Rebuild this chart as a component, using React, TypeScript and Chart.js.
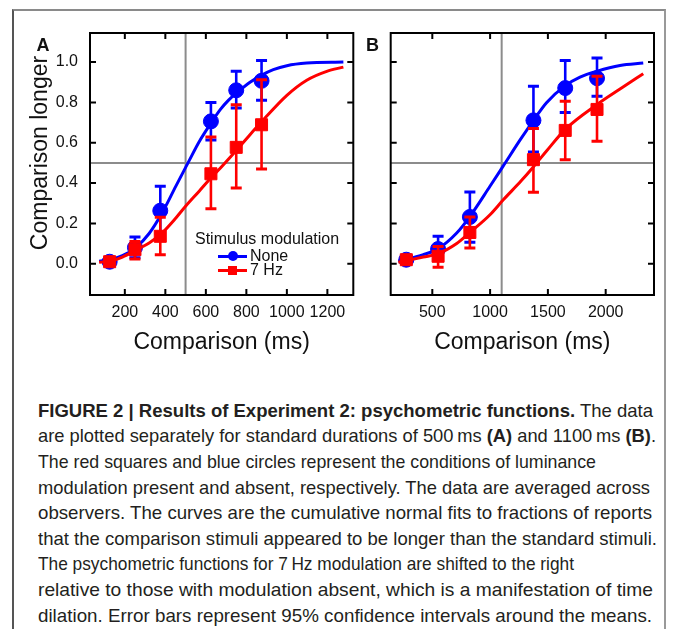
import React, { useEffect, useLayoutEffect, useRef } from 'react';
import { Chart, registerables } from 'chart.js';

Chart.register(...registerables);

// ---------- Data ----------
const X_A = [125, 250, 375, 625, 750, 875];
const NONE_A = [0.01, 0.08, 0.263, 0.706, 0.86, 0.907];
const NONE_A_LO = [0.0, 0.03, 0.15, 0.613, 0.772, 0.81];
const NONE_A_HI = [0.02, 0.132, 0.384, 0.8, 0.954, 1.008];
const HZ7_A = [0.01, 0.07, 0.136, 0.446, 0.577, 0.689];
const HZ7_A_LO = [0.0, 0.023, 0.045, 0.273, 0.375, 0.47];
const HZ7_A_HI = [0.02, 0.11, 0.23, 0.628, 0.788, 0.912];

const X_B = [275, 550, 825, 1375, 1650, 1925];
const NONE_B = [0.02, 0.073, 0.232, 0.711, 0.871, 0.92];
const NONE_B_LO = [0.0, 0.02, 0.106, 0.554, 0.75, 0.83];
const NONE_B_HI = [0.03, 0.136, 0.356, 0.88, 1.008, 1.02];
const HZ7_B = [0.02, 0.037, 0.155, 0.516, 0.661, 0.765];
const HZ7_B_LO = [0.0, -0.018, 0.078, 0.355, 0.516, 0.607];
const HZ7_B_HI = [0.03, 0.086, 0.232, 0.67, 0.805, 0.929];

// fitted curves
const FIT_NONE_A_X = [73, 126, 188, 254, 320, 383, 452, 517, 567, 624, 672, 711, 756, 818, 876, 933, 1000, 1098, 1279];
const FIT_NONE_A_Y = [0.012, 0.02, 0.04, 0.08, 0.15, 0.25, 0.385, 0.51, 0.605, 0.695, 0.765, 0.81, 0.85, 0.9, 0.935, 0.962, 0.982, 0.995, 1.0];
const FIT_HZ7_A_X = [73, 126, 188, 259, 320, 375, 452, 504, 567, 629, 672, 749, 818, 876, 1000, 1098, 1197, 1279];
const FIT_HZ7_A_Y = [0.007, 0.012, 0.033, 0.07, 0.103, 0.144, 0.227, 0.29, 0.36, 0.43, 0.475, 0.56, 0.64, 0.705, 0.835, 0.91, 0.954, 0.975];
const FIT_NONE_B_X = [206, 422, 552, 711, 826, 999, 1114, 1267, 1380, 1490, 1648, 1778, 1927, 2124, 2325];
const FIT_NONE_B_Y = [0.012, 0.045, 0.075, 0.152, 0.235, 0.384, 0.485, 0.62, 0.715, 0.8, 0.882, 0.925, 0.955, 0.983, 0.995];
const FIT_HZ7_B_X = [206, 422, 552, 711, 826, 999, 1114, 1267, 1374, 1490, 1648, 1927, 2124, 2325];
const FIT_HZ7_B_Y = [0.007, 0.033, 0.05, 0.1, 0.155, 0.243, 0.317, 0.41, 0.48, 0.56, 0.665, 0.79, 0.866, 0.942];

const X_TICKS_A = [200, 400, 600, 800, 1000, 1200];
const X_TICKS_B = [500, 1000, 1500, 2000];
const Y_TICKS = [0, 0.2, 0.4, 0.6, 0.8, 1.0];
const STANDARD_A = 500;
const STANDARD_B = 1100;
const THRESHOLD = 0.5;
const X_RANGE_A = [28, 1328];
const X_RANGE_B = [140, 2418];
const Y_RANGE = [-0.155, 1.144];

const SERIES_NAMES = ['None', '7 Hz'];
const LEGEND_TITLE = 'Stimulus modulation';
const X_TITLE = 'Comparison (ms)';
const Y_TITLE = 'Comparison longer';

// ---------- Style ----------
const FONT = '"Liberation Sans", Arial, Helvetica, sans-serif';
const BLUE = '#0000ff';
const RED = '#ff0000';
const CW = 673;
const CH = 370;

const zip = (xs: number[], ys: number[]) => xs.map((x, i) => ({ x, y: ys[i] }));

const panelPlugin: any = {
  id: 'panelDecor',
  beforeDatasetsDraw(chart: any, _a: any, opts: any) {
    const { ctx, chartArea: ca, scales } = chart;
    const sx = scales.x.getPixelForValue(opts.standard);
    const ty = scales.y.getPixelForValue(opts.threshold);
    ctx.save();
    ctx.strokeStyle = '#8c8c8c';
    ctx.lineWidth = 2;
    ctx.beginPath();
    ctx.moveTo(sx, ca.top);
    ctx.lineTo(sx, ca.bottom);
    ctx.moveTo(ca.left, ty);
    ctx.lineTo(ca.right, ty);
    ctx.stroke();
    ctx.restore();
  },
  afterDatasetDraw(chart: any, args: any) {
    const ds = chart.data.datasets[args.index];
    if (!ds.errLow) return;
    const { ctx, scales } = chart;
    ctx.save();
    ctx.strokeStyle = ds.errColor;
    ds.data.forEach((p: any, i: number) => {
      const px = scales.x.getPixelForValue(p.x);
      const lo = scales.y.getPixelForValue(ds.errLow[i]);
      const hi = scales.y.getPixelForValue(ds.errHigh[i]);
      ctx.lineWidth = 2.6;
      ctx.beginPath();
      ctx.moveTo(px, lo);
      ctx.lineTo(px, hi);
      ctx.stroke();
      ctx.lineWidth = 3;
      ctx.beginPath();
      ctx.moveTo(px - 5.5, lo);
      ctx.lineTo(px + 5.5, lo);
      ctx.moveTo(px - 5.5, hi);
      ctx.lineTo(px + 5.5, hi);
      ctx.stroke();
    });
    ctx.restore();
  },
  afterDraw(chart: any, _a: any, opts: any) {
    const { ctx, chartArea: ca, scales } = chart;
    ctx.save();
    ctx.strokeStyle = '#000';
    ctx.lineWidth = 2;
    ctx.strokeRect(ca.left, ca.top, ca.right - ca.left, ca.bottom - ca.top);
    ctx.beginPath();
    opts.xTicks.forEach((v: number) => {
      const px = scales.x.getPixelForValue(v);
      ctx.moveTo(px, ca.bottom);
      ctx.lineTo(px, ca.bottom - 6);
      ctx.moveTo(px, ca.top);
      ctx.lineTo(px, ca.top + 6);
    });
    opts.yTicks.forEach((v: number) => {
      const py = scales.y.getPixelForValue(v);
      ctx.moveTo(ca.left, py);
      ctx.lineTo(ca.left + 6, py);
      ctx.moveTo(ca.right, py);
      ctx.lineTo(ca.right - 6, py);
    });
    ctx.stroke();
    ctx.restore();
  },
};

function makeConfig(p: any): any {
  const datasets = [
    {
      label: SERIES_NAMES[0] + ' fit',
      data: zip(p.fitNoneX, p.fitNoneY),
      showLine: true,
      borderColor: BLUE,
      borderWidth: 3,
      pointRadius: 0,
      cubicInterpolationMode: 'monotone',
      order: 4,
    },
    {
      label: SERIES_NAMES[0],
      data: zip(p.x, p.none),
      pointStyle: 'circle',
      pointRadius: 7.5,
      backgroundColor: BLUE,
      borderColor: BLUE,
      borderWidth: 1,
      errLow: p.noneLo,
      errHigh: p.noneHi,
      errColor: BLUE,
      order: 3,
    },
    {
      label: SERIES_NAMES[1] + ' fit',
      data: zip(p.fitHzX, p.fitHzY),
      showLine: true,
      borderColor: RED,
      borderWidth: 3,
      pointRadius: 0,
      cubicInterpolationMode: 'monotone',
      order: 2,
    },
    {
      label: SERIES_NAMES[1],
      data: zip(p.x, p.hz),
      pointStyle: 'rect',
      pointRadius: 8.5,
      backgroundColor: RED,
      borderColor: RED,
      borderWidth: 1,
      errLow: p.hzLo,
      errHigh: p.hzHi,
      errColor: RED,
      order: 1,
    },
  ];
  return {
    type: 'scatter',
    data: { datasets },
    plugins: [panelPlugin],
    options: {
      responsive: false,
      animation: false,
      events: [],
      layout: { padding: p.padding },
      plugins: {
        legend: { display: false },
        tooltip: { enabled: false },
        panelDecor: { standard: p.standard, threshold: THRESHOLD, xTicks: p.xTicks, yTicks: Y_TICKS },
      },
      scales: {
        x: {
          type: 'linear',
          min: p.xRange[0],
          max: p.xRange[1],
          afterBuildTicks: (s: any) => {
            s.ticks = p.xTicks.map((v: number) => ({ value: v }));
          },
          afterFit: (s: any) => {
            s.height = 61;
          },
          grid: { display: false, drawTicks: false },
          border: { display: false },
          ticks: {
            autoSkip: false,
            maxRotation: 0,
            padding: 8,
            color: '#111',
            font: { family: FONT, size: 16 },
            callback: (v: any) => String(v),
          },
          title: {
            display: true,
            text: X_TITLE,
            color: '#111',
            font: { family: FONT, size: 23 },
            padding: 0,
          },
        },
        y: {
          type: 'linear',
          display: p.showY,
          min: Y_RANGE[0],
          max: Y_RANGE[1],
          afterBuildTicks: (s: any) => {
            s.ticks = Y_TICKS.map((v) => ({ value: v }));
          },
          afterFit: (s: any) => {
            s.width = p.showY ? 90 : 0;
          },
          grid: { display: false, drawTicks: false },
          border: { display: false },
          ticks: {
            padding: 12,
            color: '#111',
            font: { family: FONT, size: 16 },
            callback: (v: any) => Number(v).toFixed(1),
          },
        },
      },
    },
  };
}

function Panel({ p }: { p: any }) {
  const ref = useRef<HTMLCanvasElement>(null);
  useEffect(() => {
    if (!ref.current) return;
    const chart = new Chart(ref.current, makeConfig(p));
    return () => chart.destroy();
  }, [p]);
  return (
    <canvas
      ref={ref}
      width={CW}
      height={CH}
      style={{ position: 'absolute', left: 0, top: 0, width: CW, height: CH }}
    />
  );
}

const PANEL_A = {
  x: X_A, none: NONE_A, noneLo: NONE_A_LO, noneHi: NONE_A_HI,
  hz: HZ7_A, hzLo: HZ7_A_LO, hzHi: HZ7_A_HI,
  fitNoneX: FIT_NONE_A_X, fitNoneY: FIT_NONE_A_Y, fitHzX: FIT_HZ7_A_X, fitHzY: FIT_HZ7_A_Y,
  xTicks: X_TICKS_A, xRange: X_RANGE_A, standard: STANDARD_A, showY: true,
  padding: { left: 0, top: 33, right: CW - 353.3, bottom: CH - 295 - 61 },
};
const PANEL_B = {
  x: X_B, none: NONE_B, noneLo: NONE_B_LO, noneHi: NONE_B_HI,
  hz: HZ7_B, hzLo: HZ7_B_LO, hzHi: HZ7_B_HI,
  fitNoneX: FIT_NONE_B_X, fitNoneY: FIT_NONE_B_Y, fitHzX: FIT_HZ7_B_X, fitHzY: FIT_HZ7_B_Y,
  xTicks: X_TICKS_B, xRange: X_RANGE_B, standard: STANDARD_B, showY: false,
  padding: { left: 390.7, top: 33, right: CW - 654, bottom: CH - 295 - 61 },
};

function FitLine({ target, top, children }: { target: number; top: number; children: any }) {
  const ref = useRef<HTMLSpanElement>(null);
  useLayoutEffect(() => {
    const el = ref.current;
    if (!el) return;
    el.style.transform = 'none';
    const w = el.getBoundingClientRect().width;
    if (w > 0) el.style.transform = `scaleX(${target / w})`;
  }, [target]);
  return (
    <div
      style={{
        position: 'absolute',
        left: 38,
        top,
        height: 25.6,
        lineHeight: '25.6px',
        whiteSpace: 'nowrap',
      }}
    >
      <span ref={ref} style={{ display: 'inline-block', transformOrigin: '0 50%' }}>
        {children}
      </span>
    </div>
  );
}

const CAPTION_WIDTHS = [615, 618, 558, 612, 614, 619, 536, 615, 614];

export default function App() {
  const capTop = 397.7;
  const step = 25.6;
  return (
    <div
      style={{
        position: 'absolute',
        left: 0,
        top: 0,
        width: 673,
        height: 629,
        overflow: 'hidden',
        background: '#fff',
        fontFamily: FONT,
        color: '#111',
      }}
    >
      <div
        style={{
          position: 'absolute',
          left: 12,
          top: 9,
          width: 654,
          height: 620,
          boxSizing: 'border-box',
          borderTop: '2px solid #8a8a8a',
          borderLeft: '2px solid #555',
          borderRight: '2px solid #999',
        }}
      />
      <Panel p={PANEL_A} />
      <Panel p={PANEL_B} />

      <div style={{ position: 'absolute', left: 36.5, top: 35.6, fontSize: 18, lineHeight: '18px', fontWeight: 'bold' }}>A</div>
      <div style={{ position: 'absolute', left: 366, top: 35.6, fontSize: 18, lineHeight: '18px', fontWeight: 'bold' }}>B</div>

      <div
        style={{
          position: 'absolute',
          left: 38.8 - 150,
          top: 152.5 - 15,
          width: 300,
          height: 30,
          lineHeight: '30px',
          fontSize: 23,
          textAlign: 'center',
          transform: 'rotate(-90deg)',
          whiteSpace: 'nowrap',
        }}
      >
        {Y_TITLE}
      </div>

      {/* legend */}
      <div style={{ position: 'absolute', left: 195, top: 229, fontSize: 16, lineHeight: '20px', whiteSpace: 'nowrap' }}>
        {LEGEND_TITLE}
      </div>
      <div style={{ position: 'absolute', left: 218, top: 254.5, width: 29, height: 3, background: BLUE }} />
      <div style={{ position: 'absolute', left: 227.5, top: 251, width: 10, height: 10, borderRadius: 5, background: BLUE }} />
      <div style={{ position: 'absolute', left: 250, top: 246, fontSize: 16, lineHeight: '20px' }}>{SERIES_NAMES[0]}</div>
      <div style={{ position: 'absolute', left: 218, top: 268.5, width: 29, height: 3, background: RED }} />
      <div style={{ position: 'absolute', left: 228, top: 265.5, width: 9, height: 9, background: RED }} />
      <div style={{ position: 'absolute', left: 250, top: 260, fontSize: 16, lineHeight: '20px' }}>{SERIES_NAMES[1]}</div>

      {/* caption */}
      <div style={{ fontFamily: '"Liberation Sans Narrow", "Liberation Sans", Arial, sans-serif', fontSize: 19, color: '#231f20' }}>
        <FitLine target={CAPTION_WIDTHS[0]} top={capTop}>
          <b>FIGURE 2 | Results of Experiment 2: psychometric functions.</b> The data
        </FitLine>
        <FitLine target={CAPTION_WIDTHS[1]} top={capTop + step}>
          are plotted separately for standard durations of 500{'\u2009'}ms <b>(A)</b> and 1100{'\u2009'}ms <b>(B)</b>.
        </FitLine>
        <FitLine target={CAPTION_WIDTHS[2]} top={capTop + step * 2}>
          The red squares and blue circles represent the conditions of luminance
        </FitLine>
        <FitLine target={CAPTION_WIDTHS[3]} top={capTop + step * 3}>
          modulation present and absent, respectively. The data are averaged across
        </FitLine>
        <FitLine target={CAPTION_WIDTHS[4]} top={capTop + step * 4}>
          observers. The curves are the cumulative normal fits to fractions of reports
        </FitLine>
        <FitLine target={CAPTION_WIDTHS[5]} top={capTop + step * 5}>
          that the comparison stimuli appeared to be longer than the standard stimuli.
        </FitLine>
        <FitLine target={CAPTION_WIDTHS[6]} top={capTop + step * 6}>
          The psychometric functions for 7{'\u2009'}Hz modulation are shifted to the right
        </FitLine>
        <FitLine target={CAPTION_WIDTHS[7]} top={capTop + step * 7}>
          relative to those with modulation absent, which is a manifestation of time
        </FitLine>
        <FitLine target={CAPTION_WIDTHS[8]} top={capTop + step * 8}>
          dilation. Error bars represent 95% confidence intervals around the means.
        </FitLine>
      </div>
    </div>
  );
}
